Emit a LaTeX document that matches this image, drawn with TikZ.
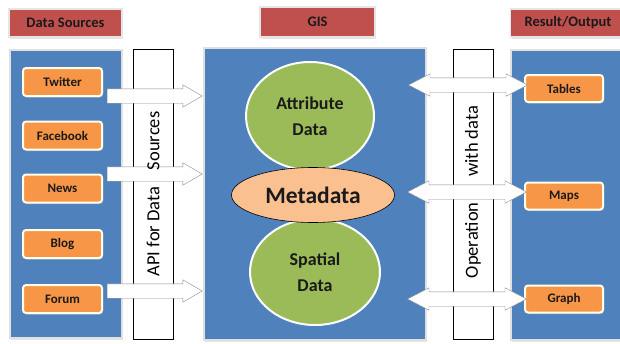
\documentclass[tikz,border=0pt]{standalone}
\usepackage{fontspec}
\setmainfont{Carlito}
\usetikzlibrary{shapes.geometric,shapes.arrows,shadows}

\definecolor{panelblue}{HTML}{4F81BD}
\definecolor{headred}{HTML}{C0504D}
\definecolor{boxorange}{HTML}{F79646}
\definecolor{circgreen}{HTML}{9BBB59}
\definecolor{metaorange}{HTML}{FAC090}
\definecolor{inkdark}{HTML}{1A1A1A}

\begin{document}
\begin{tikzpicture}[x=1pt,y=-1pt,
    panel/.style={draw=black!12,line width=2pt,fill=panelblue,
        drop shadow={shadow xshift=1pt,shadow yshift=-1.5pt,fill=black!20}},
    strip/.style={draw=black,line width=0.6pt,fill=white,minimum width=40pt,minimum height=290pt},
    header/.style={draw=black!10,line width=1.5pt,fill=headred,text=inkdark,
        font=\fontsize{14.5}{16}\selectfont\bfseries,minimum height=28pt,
        drop shadow={shadow xshift=1pt,shadow yshift=-1.5pt,fill=black!20}},
    source/.style={draw=white!92!yellow,line width=2pt,fill=boxorange,rounded corners=3pt,
        text=inkdark,font=\fontsize{13}{15}\selectfont\bfseries,minimum width=79pt,minimum height=28pt,
        drop shadow={shadow xshift=1pt,shadow yshift=-1.5pt,fill=black!25}},
    blob/.style={ellipse,draw=white,line width=2pt,fill=circgreen,text=inkdark,align=center,
        font=\fontsize{18}{26}\selectfont\bfseries},
    fwd/.style={single arrow,draw=black!45,fill=white,inner sep=7pt,
        single arrow head extend=4pt,single arrow tip angle=60,minimum height=95pt},
    both/.style={double arrow,draw=black!45,fill=white,inner sep=7pt,
        double arrow head extend=4pt,double arrow tip angle=55,minimum height=119pt},
    striptext/.style={rotate=90,text=black,font=\fontsize{18.5}{20}\selectfont}]

  \useasboundingbox[fill=white] (0,0) rectangle (620,343);

  % panels and strips
  \node[panel,minimum width=112pt,minimum height=288pt] (srcpanel) at (66,194) {};
  \node[panel,minimum width=222pt,minimum height=292pt] (gispanel) at (315,194) {};
  \node[panel,minimum width=115pt,minimum height=290pt] (outpanel) at (568,195) {};
  \node[strip] (api) at (153,194) {};
  \node[strip] (oper) at (473,194) {};

  % headers
  \node[header,minimum width=113pt] (hsrc) at (65.5,23) {Data Sources};
  \node[header,minimum width=115pt,minimum height=30pt] (hgis) at (317.5,22) {GIS};
  \node[header,minimum width=115pt] (hout) at (568,23) {Result/Output};

  % data sources
  \node[source] (twitter) at (62.5,82) {Twitter};
  \node[source] (facebook) at (62.5,135.5) {Facebook};
  \node[source] (news) at (62.5,188.5) {News};
  \node[source] (blog) at (62.5,244) {Blog};
  \node[source] (forum) at (62.5,299) {Forum};

  % outputs
  \node[source,minimum width=78pt,minimum height=27pt] (tables) at (564,88.5) {Tables};
  \node[source,minimum width=78pt,minimum height=27pt] (maps) at (564,196) {Maps};
  \node[source,minimum width=78pt,minimum height=27pt] (graph) at (564,299) {Graph};

  % GIS contents
  \node[blob,minimum width=128pt,minimum height=108pt] (attr) at (310,116) {Attribute\\Data};
  \node[blob,minimum width=130pt,minimum height=106pt] (spatial) at (315,272) {Spatial\\Data};
  \node[ellipse,draw=black,line width=0.6pt,fill=metaorange,text=inkdark,
        minimum width=163pt,minimum height=55pt,font=\fontsize{23.5}{26}\selectfont\bfseries] (meta) at (313,195) {Metadata};

  % arrows
  \node[fwd,anchor=west] (in1) at (107,96) {};
  \node[fwd,anchor=west] (in2) at (107,174) {};
  \node[fwd,anchor=west] (in3) at (107,291) {};
  \node[both] (out1) at (468,85) {};
  \node[both] (out2) at (467,192) {};
  \node[both] (out3) at (467,299) {};

  % strip labels
  \node[striptext] (apitext) at (api.center) {API for Data\hspace{0.9em}Sources};
  \node[striptext] (opertext) at (473,192) {Operation\hspace{1.4em}with data};
\end{tikzpicture}
\end{document}
